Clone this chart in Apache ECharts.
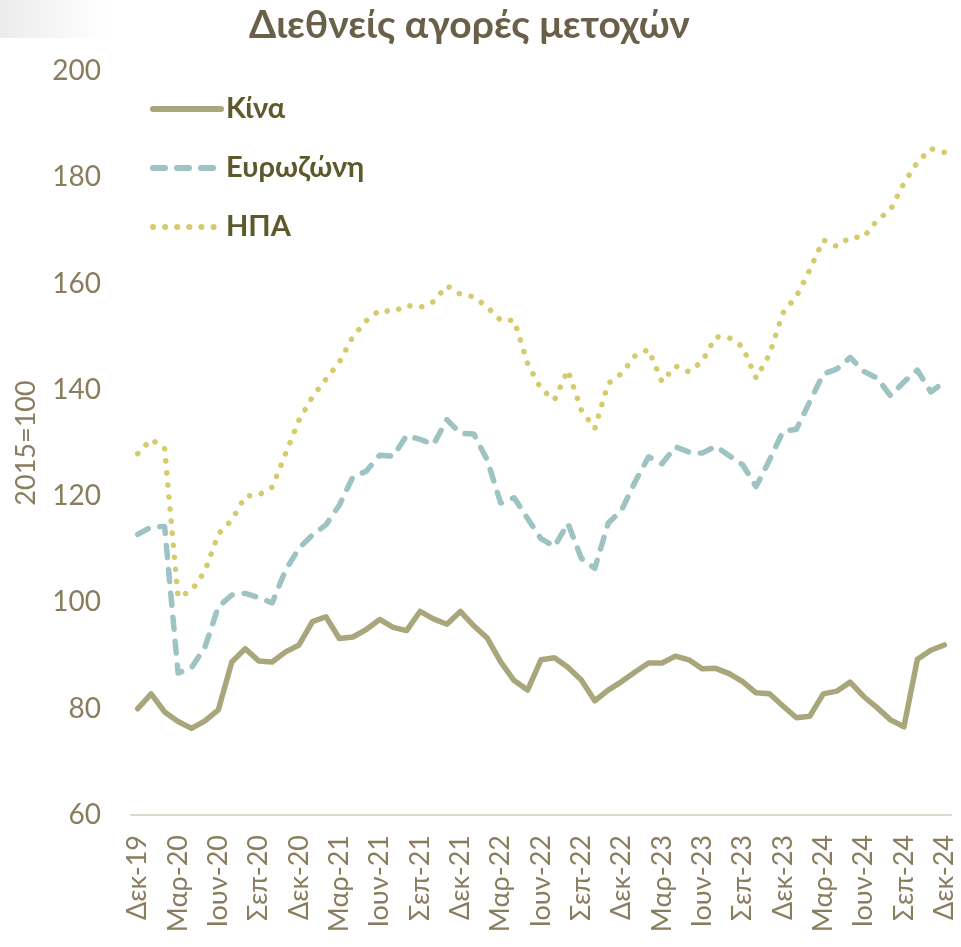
<!DOCTYPE html>
<html>
<head>
<meta http-equiv="Content-Type" content="text/html; charset=utf-8" />
<title>Διεθνείς αγορές μετοχών</title>
<script type="text/javascript" src="https://cdn.jsdelivr.net/npm/echarts@6/dist/echarts.min.js"></script>
<style>
	html, body { margin: 0; padding: 0; background: #fff; }
	#chart { width: 961px; height: 947px; }
</style>
<script type="text/javascript">
	// μήνες (Δεκ-19 ... Δεκ-24), 2015=100
	var categories = [
		'Δεκ-19','Ιαν-20','Φεβ-20','Μαρ-20','Απρ-20','Μαϊ-20','Ιουν-20','Ιουλ-20','Αυγ-20','Σεπ-20','Οκτ-20','Νοε-20',
		'Δεκ-20','Ιαν-21','Φεβ-21','Μαρ-21','Απρ-21','Μαϊ-21','Ιουν-21','Ιουλ-21','Αυγ-21','Σεπ-21','Οκτ-21','Νοε-21',
		'Δεκ-21','Ιαν-22','Φεβ-22','Μαρ-22','Απρ-22','Μαϊ-22','Ιουν-22','Ιουλ-22','Αυγ-22','Σεπ-22','Οκτ-22','Νοε-22',
		'Δεκ-22','Ιαν-23','Φεβ-23','Μαρ-23','Απρ-23','Μαϊ-23','Ιουν-23','Ιουλ-23','Αυγ-23','Σεπ-23','Οκτ-23','Νοε-23',
		'Δεκ-23','Ιαν-24','Φεβ-24','Μαρ-24','Απρ-24','Μαϊ-24','Ιουν-24','Ιουλ-24','Αυγ-24','Σεπ-24','Οκτ-24','Νοε-24',
		'Δεκ-24'
	];
	var china = [
		80.0, 82.8, 79.4, 77.6, 76.3, 77.7, 79.8, 88.8, 91.3, 89.0, 88.8, 90.7,
		92.0, 96.4, 97.3, 93.2, 93.5, 94.9, 96.8, 95.3, 94.7, 98.3, 96.9, 95.9,
		98.3, 95.6, 93.3, 88.8, 85.3, 83.5, 89.2, 89.6, 87.8, 85.4, 81.5, 83.5,
		85.1, 86.9, 88.6, 88.6, 89.9, 89.2, 87.5, 87.6, 86.6, 85.1, 83.0, 82.8,
		80.5, 78.3, 78.6, 82.8, 83.3, 85.0, 82.3, 80.2, 77.9, 76.6, 89.3, 91.0,
		92.0
	];
	var eurozone = [
		112.8, 114.2, 114.3, 86.7, 87.7, 91.6, 99.2, 101.4, 101.7, 100.9, 99.9, 106.1,
		110.2, 112.7, 114.6, 118.3, 123.6, 124.7, 127.7, 127.5, 131.4, 130.7, 129.7, 134.4,
		131.8, 131.7, 126.8, 118.7, 119.7, 115.8, 112.0, 110.5, 114.9, 108.3, 106.4, 114.9,
		117.4, 122.7, 127.4, 126.1, 129.3, 128.3, 128.1, 129.4, 127.6, 125.9, 121.8, 126.8,
		132.2, 132.6, 137.8, 143.0, 143.9, 146.1, 143.5, 142.2, 138.9, 141.5, 143.7, 139.6,
		141.5
	];
	var usa = [
		128.0, 130.7, 129.0, 101.0, 102.2, 105.9, 112.9, 115.5, 120.0, 120.2, 121.7, 128.0,
		134.3, 138.7, 142.0, 145.2, 150.0, 153.0, 155.0, 154.7, 155.9, 155.5, 156.6, 159.6,
		158.0, 157.5, 155.6, 153.1, 153.1, 145.0, 140.2, 138.1, 143.7, 136.2, 132.7, 141.2,
		143.1, 146.4, 147.6, 141.5, 144.5, 143.4, 145.4, 150.0, 149.8, 148.1, 142.2, 146.7,
		154.5, 157.6, 162.6, 168.2, 167.0, 168.7, 168.7, 171.9, 173.9, 178.9, 182.8, 185.4,
		184.7
	];
	var seriesNames = ['Κίνα', 'Ευρωζώνη', 'ΗΠΑ'];
	var yTicks = [60, 200, 20];//min, max, βήμα

	var fontFamily = 'Lato, "Noto Sans", sans-serif';
	var axisColor = '#8a7d5e';

	window.onload = function(){
		var chart = echarts.init(document.getElementById('chart'), null, {renderer: 'canvas'});
		var option = {
			backgroundColor: '#ffffff',
			animation: false,
			textStyle: {fontFamily: fontFamily},
			graphic: [{
				type: 'rect',
				left: 0, top: 0,
				shape: {width: 108, height: 38},
				style: {
					fill: new echarts.graphic.LinearGradient(0, 0, 1, 0, [
						{offset: 0, color: '#ececec'},
						{offset: 1, color: '#ffffff'}
					])
				},
				z: -1
			}],
			title: {
				text: 'Διεθνείς αγορές μετοχών',
				left: 244,
				top: 1,
				textStyle: {fontFamily: fontFamily, fontSize: 39, fontWeight: 'bold', color: '#6a5f48'}
			},
			legend: {
				data: seriesNames,
				orient: 'vertical',
				left: 145,
				top: 88,
				itemWidth: 68,
				itemHeight: 14,
				itemGap: 27,
				lineStyle: {width: 6},
				itemStyle: {opacity: 0},
				textStyle: {fontFamily: fontFamily, fontSize: 29, fontWeight: 'bold', color: '#5e592c', lineHeight: 32}
			},
			grid: {left: 131, right: 10, top: 71, bottom: 132, outerBoundsMode: 'none'},
			xAxis: {
				type: 'category',
				data: categories,
				boundaryGap: true,
				axisLine: {lineStyle: {color: '#dcd8cb', width: 2}},
				axisTick: {interval: 2, length: 10, lineStyle: {color: '#dcd8cb', width: 2}},
				axisLabel: {interval: 2, rotate: 90, margin: 20, fontFamily: fontFamily, fontSize: 27, color: axisColor}
			},
			yAxis: {
				type: 'value',
				min: yTicks[0],
				max: yTicks[1],
				interval: yTicks[2],
				name: '2015=100',
				nameLocation: 'middle',
				nameRotate: 90,
				nameGap: 91,
				nameTextStyle: {fontFamily: fontFamily, fontSize: 27, color: axisColor},
				axisLine: {show: false},
				axisTick: {show: false},
				splitLine: {show: false},
				axisLabel: {margin: 30, fontFamily: fontFamily, fontSize: 28, color: axisColor}
			},
			series: [
				{
					name: seriesNames[0],
					type: 'line',
					data: china,
					symbol: 'none',
					z: 3,
					lineStyle: {color: '#aaa67c', width: 5.5, cap: 'round', join: 'round'},
					itemStyle: {color: '#aaa67c'}
				},
				{
					name: seriesNames[1],
					type: 'line',
					data: eurozone,
					symbol: 'none',
					z: 2,
					lineStyle: {color: '#9dc3c2', width: 5.5, type: [12, 12], cap: 'round', join: 'round'},
					itemStyle: {color: '#9dc3c2'}
				},
				{
					name: seriesNames[2],
					type: 'line',
					data: usa,
					symbol: 'none',
					z: 1,
					lineStyle: {color: '#d6cb6a', width: 5.5, type: [0.1, 12], cap: 'round', join: 'round'},
					itemStyle: {color: '#d6cb6a'}
				}
			]
		};
		chart.setOption(option);
	};
</script>
</head>
<body>
	<div id="chart"></div>
</body>
</html>
